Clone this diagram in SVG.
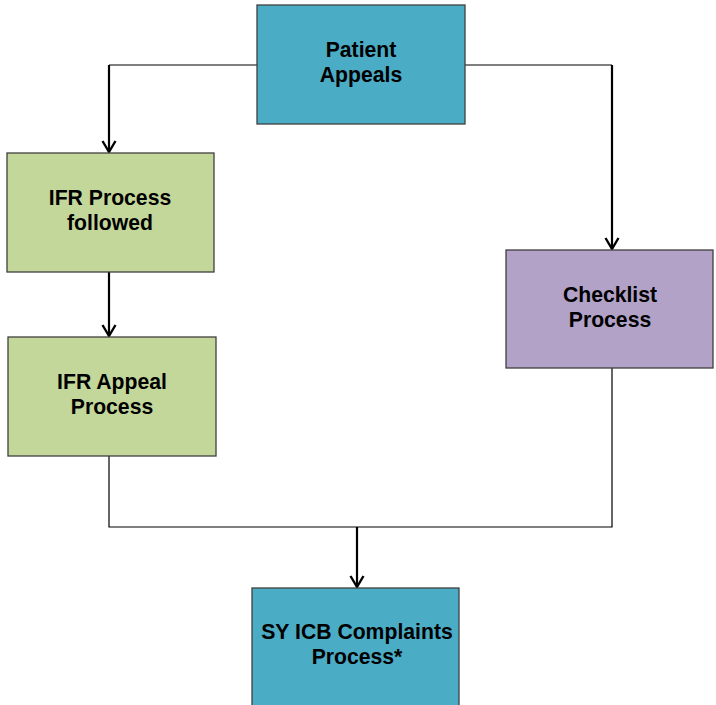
<svg xmlns="http://www.w3.org/2000/svg" width="716" height="705" viewBox="0 0 716 705">
<style>
.box{stroke:#3f3f3f;stroke-width:1.3}
.teal{fill:#4BACC6}
.green{fill:#C4D79B}
.purple{fill:#B2A2C7}
.lbl{font-family:"Liberation Sans",Arial,sans-serif;font-weight:bold;font-size:21.2px;fill:#000;text-anchor:middle}
.thin{fill:none;stroke:#000;stroke-width:1.2}
.thick{fill:none;stroke:#000;stroke-width:2.2}
</style>
<defs>
<marker id="arr" markerWidth="16" markerHeight="16" refX="13" refY="8" orient="auto" markerUnits="userSpaceOnUse" viewBox="0 0 16 16">
<path d="M2,1.5 L13,8 L2,14.5" fill="none" stroke="#000" stroke-width="2.4"/>
</marker>
</defs>
<rect width="716" height="705" fill="#fff"/>
<g id="connectors">
<path class="thin" d="M257,65 H109"/>
<path class="thick" d="M109,65 V152" marker-end="url(#arr)"/>
<path class="thin" d="M465,65 H612"/>
<path class="thick" d="M612,65 V249" marker-end="url(#arr)"/>
<path class="thick" d="M109,272 V336" marker-end="url(#arr)"/>
<path class="thin" d="M109,456 V527 H612 V368"/>
<path class="thick" d="M357,527 V587" marker-end="url(#arr)"/>
</g>
<g id="patient-appeals">
<rect class="box teal" x="257" y="5" width="208" height="119"/>
<text class="lbl" x="361" y="57">Patient</text>
<text class="lbl" x="361" y="82">Appeals</text>
</g>
<g id="ifr-process">
<rect class="box green" x="7" y="153" width="207" height="119"/>
<text class="lbl" x="110" y="205">IFR Process</text>
<text class="lbl" x="110" y="230">followed</text>
</g>
<g id="ifr-appeal">
<rect class="box green" x="8" y="337" width="208" height="119"/>
<text class="lbl" x="112" y="389">IFR Appeal</text>
<text class="lbl" x="112" y="414">Process</text>
</g>
<g id="checklist">
<rect class="box purple" x="506" y="250" width="207" height="118"/>
<text class="lbl" x="610" y="302">Checklist</text>
<text class="lbl" x="610" y="327">Process</text>
</g>
<g id="sy-icb">
<rect class="box teal" x="252" y="588" width="207" height="125"/>
<text class="lbl" x="357" y="639">SY ICB Complaints</text>
<text class="lbl" x="357" y="664">Process*</text>
</g>
</svg>
